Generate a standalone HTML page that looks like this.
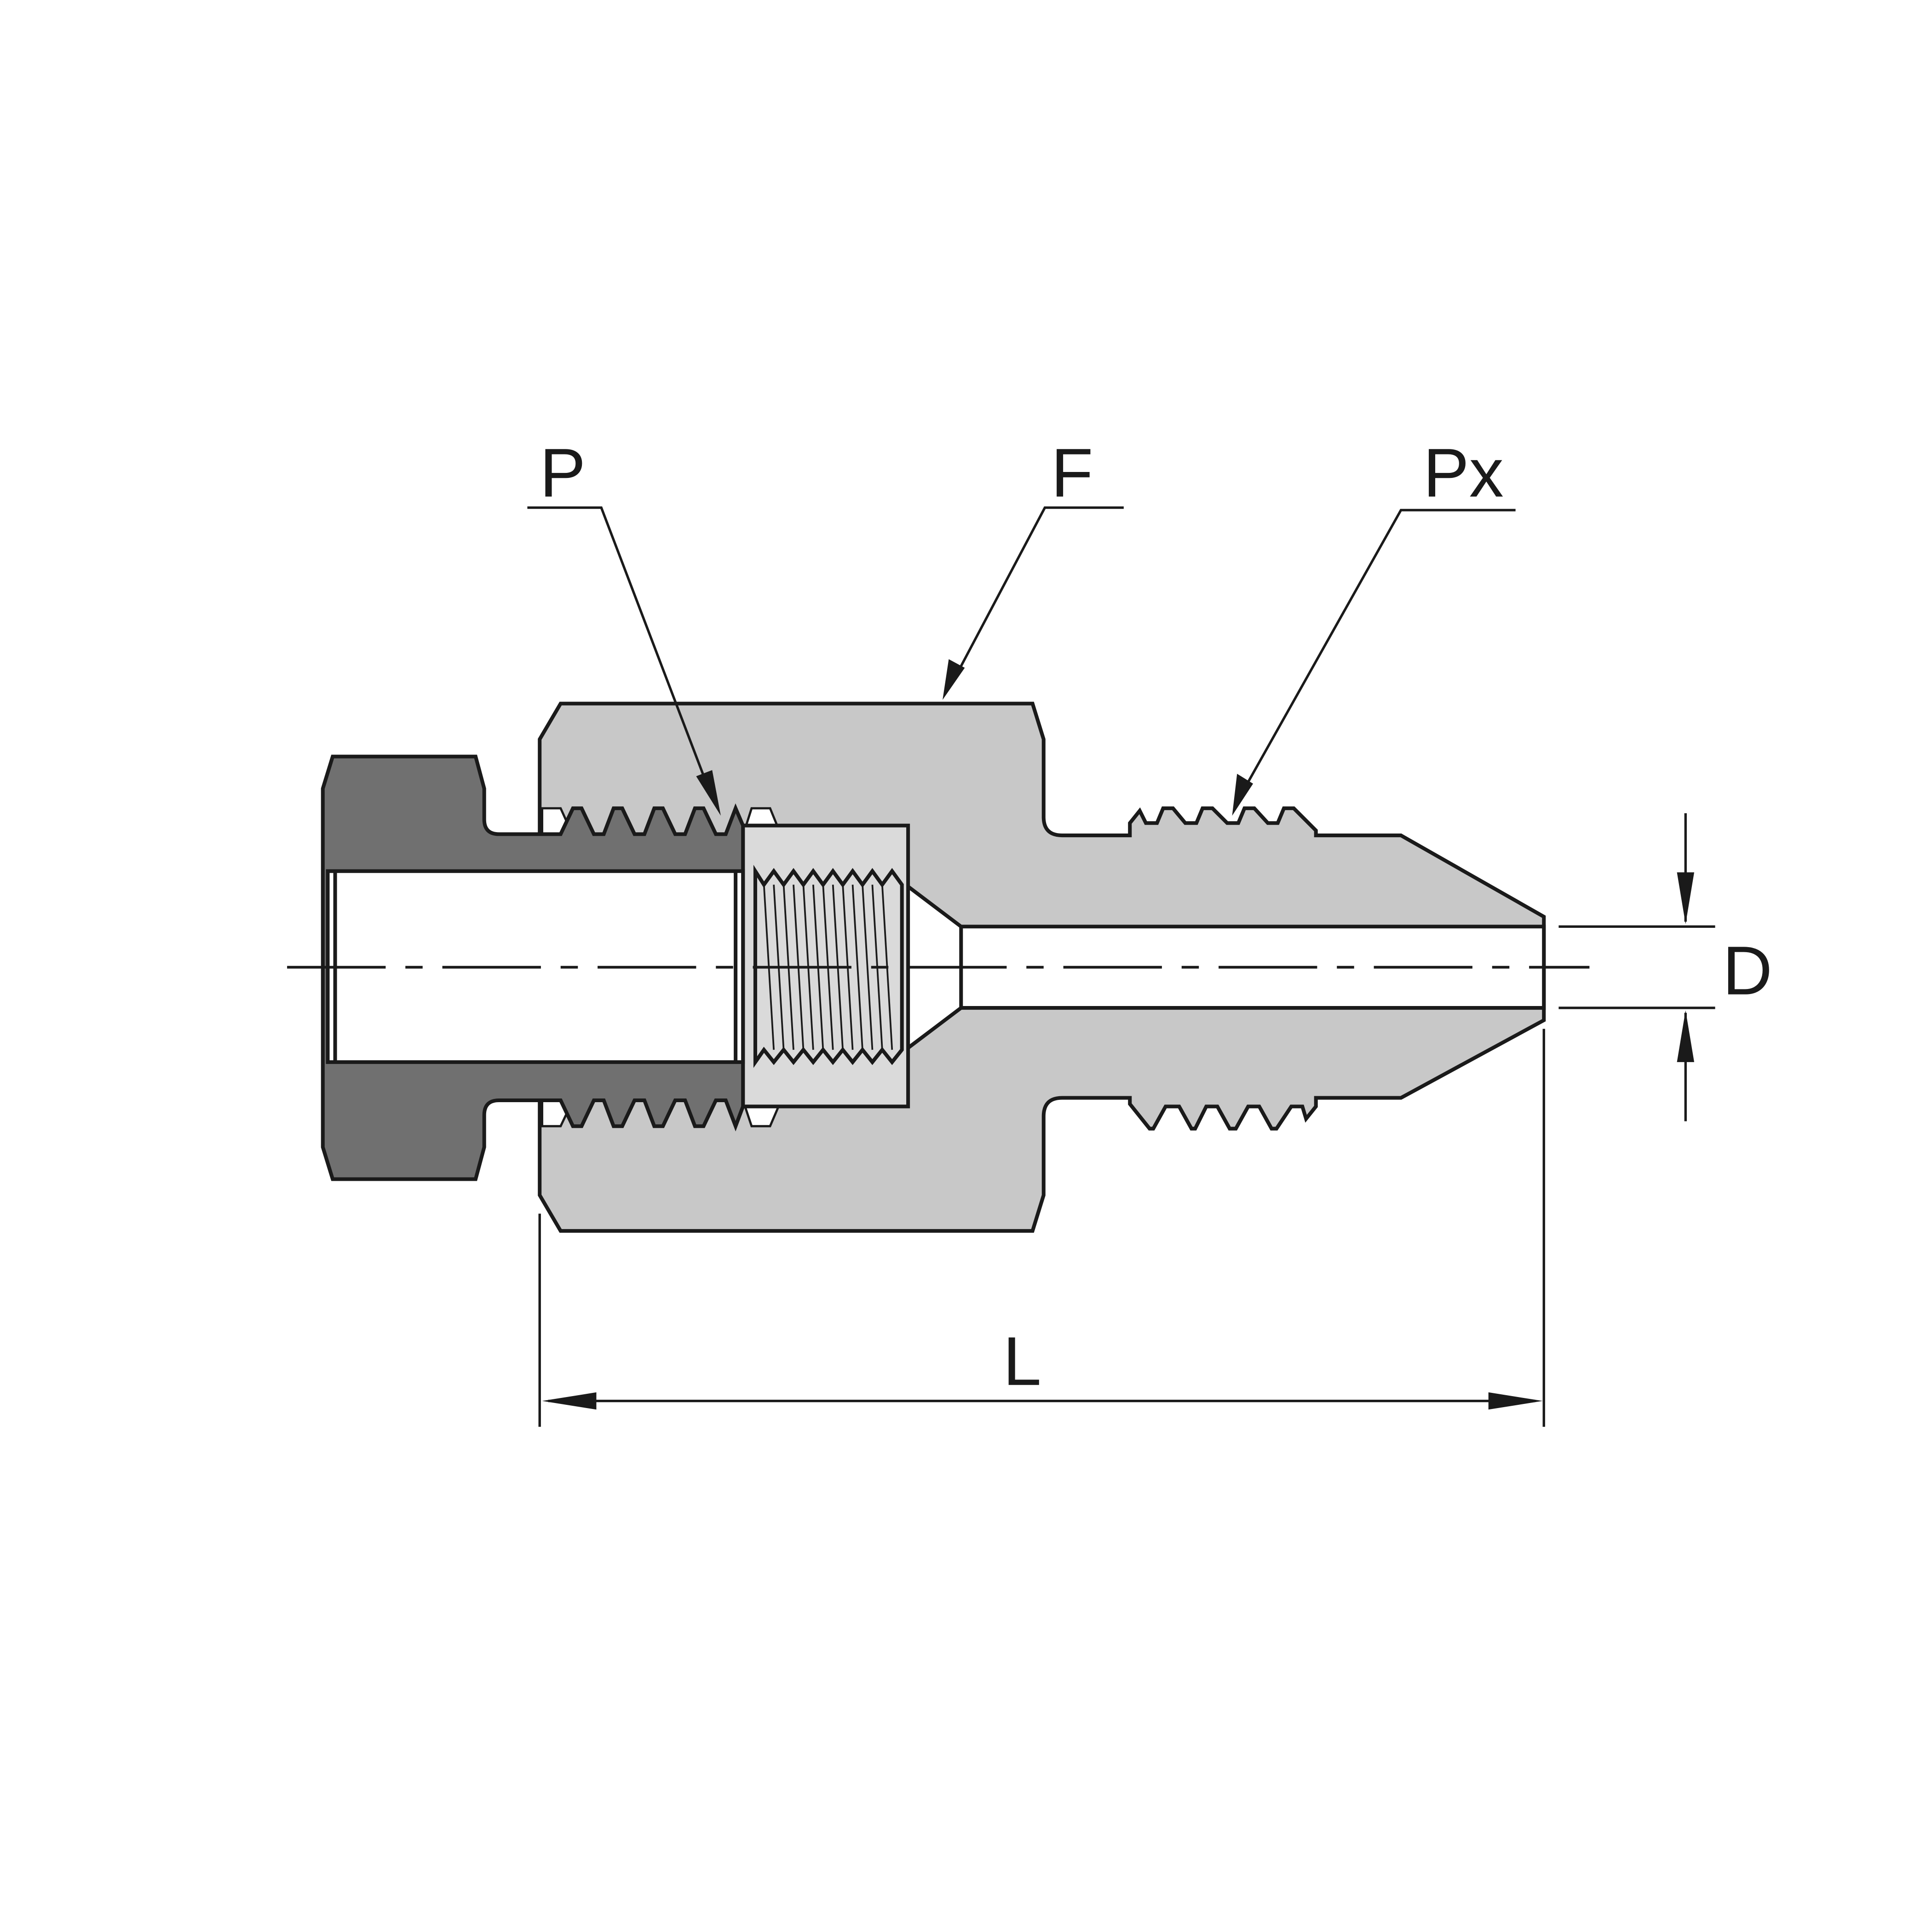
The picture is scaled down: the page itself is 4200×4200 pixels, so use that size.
<!DOCTYPE html>
<html><head><meta charset="utf-8"><style>html,body{margin:0;padding:0;background:#fff}svg{display:block}</style></head>
<body>
<svg width="4200" height="4200" viewBox="0 0 1568 1568" xmlns="http://www.w3.org/2000/svg">
<g stroke="#1a1a1a" stroke-width="3" stroke-linejoin="miter" fill="none">
<!-- Body F -->
<path fill="#c8c8c8" d="M455,571 L838,571 L847,600 L847,663 Q847,678 862,678 L917,678 L917,668 L925,658 L930,668 L939,668 L944,656 L952,656 L962,668 L971,668 L976,656 L984,656 L996,668 L1005,668 L1010,656 L1018,656 L1029,668 L1037,668 L1042,656 L1050,656 L1068,674 L1068,678 L1137,678 L1253,744 L1253,828 L1137,891 L1068,891 L1068,898 L1060,908 L1057,898 L1048,898 L1036,916 L1032,916 L1022,898 L1013,898 L1003,916 L998,916 L988,898 L979,898 L970,916 L967,916 L957,898 L946,898 L936,916 L933,916 L917,896 L917,891 L862,891 Q847,891 847,906 L847,970 L838,999 L455,999 L438,970 L438,600 Z"/>
<path fill="#fff" stroke-width="1.8" d="M440,656 L455,656 L465,678 L440,678 Z M610,656 L625,656 L634,678 L603,678 Z M440,914 L455,914 L465,893 L440,893 Z M610,914 L625,914 L634,893 L603,893 Z"/>
<path fill="#fff" d="M735,718 L780,752 L1253,752 L1253,818 L780,818 L735,852 Z"/>
<line x1="780" y1="752" x2="780" y2="818"/>
<!-- Insert -->
<rect x="603" y="670" width="134" height="228" fill="#dadada"/>
<path fill="#dadada" d="M613,707 L620,718 L628,707 L636,718 L644,707 L652,718 L660,707 L668,718 L676,707 L684,718 L692,707 L700,718 L708,707 L716,718 L724,707 L732,718 L732,852 L724,862 L716,852 L708,862 L700,852 L692,862 L684,852 L676,862 L668,852 L660,862 L652,852 L644,862 L636,852 L628,862 L620,852 L613,862 Z"/>
<g stroke-width="1.4">
<line x1="620" y1="718" x2="628" y2="852"/><line x1="636" y1="718" x2="644" y2="852"/><line x1="652" y1="718" x2="660" y2="852"/><line x1="668" y1="718" x2="676" y2="852"/><line x1="684" y1="718" x2="692" y2="852"/><line x1="700" y1="718" x2="708" y2="852"/><line x1="716" y1="718" x2="724" y2="852"/>
<line x1="628" y1="718" x2="636" y2="852"/><line x1="644" y1="718" x2="652" y2="852"/><line x1="660" y1="718" x2="668" y2="852"/><line x1="676" y1="718" x2="684" y2="852"/><line x1="692" y1="718" x2="700" y2="852"/><line x1="708" y1="718" x2="716" y2="852"/>
</g>
<!-- Nut P -->
<path fill="#707070" d="M270,614 L386,614 L393,640 L393,665 Q393,677 405,677 L455,677 L465,656 L472,656 L482,677 L490,677 L498,656 L505,656 L515,677 L523,677 L531,656 L538,656 L548,677 L556,677 L564,656 L571,656 L581,677 L589,677 L597,656 L603,670 L603,898 L597,914 L589,893 L581,893 L571,914 L564,914 L556,893 L548,893 L538,914 L531,914 L523,893 L515,893 L505,914 L498,914 L490,893 L482,893 L472,914 L465,914 L455,893 L405,893 Q393,893 393,905 L393,931 L386,957 L270,957 L262,931 L262,640 Z"/>
<rect x="266" y="707" width="337" height="155" fill="#fff"/>
<line x1="272" y1="707" x2="272" y2="862"/>
<line x1="597" y1="707" x2="597" y2="862"/>
<path stroke-width="2.2" stroke-dasharray="80,16,14,16" d="M233,785 L1290,785"/>
<g stroke-width="2">
<path d="M428,412 L488,412 L575,640"/>
<path d="M912,412 L848,412 L775,550"/>
<path d="M1230,414 L1137,414 L1010,640"/>
<line x1="438" y1="985" x2="438" y2="1158"/>
<line x1="1253" y1="835" x2="1253" y2="1158"/>
<line x1="445" y1="1137" x2="1246" y2="1137"/>
<line x1="1265" y1="752" x2="1392" y2="752"/>
<line x1="1265" y1="818" x2="1392" y2="818"/>
<line x1="1368" y1="660" x2="1368" y2="748"/>
<line x1="1368" y1="822" x2="1368" y2="910"/>
</g>
</g>
<g fill="#1a1a1a">
<polygon points="585,662 565,630 578,625"/>
<polygon points="765,568 770,535 783,542"/>
<polygon points="1000,662 1004,628 1017,636"/>
<polygon points="440,1137 484,1130 484,1144"/>
<polygon points="1252,1137 1208,1130 1208,1144"/>
<polygon points="1368,750 1361,708 1375,708"/>
<polygon points="1368,820 1361,862 1375,862"/>
</g>
<g font-family="Liberation Sans, sans-serif" font-size="56" fill="#1a1a1a">
<text x="438" y="403">P</text>
<text x="853" y="403">F</text>
<text x="1155" y="403">Px</text>
<text x="1398" y="807">D</text>
<text x="814" y="1124">L</text>
</g>
</svg>
</body></html>
